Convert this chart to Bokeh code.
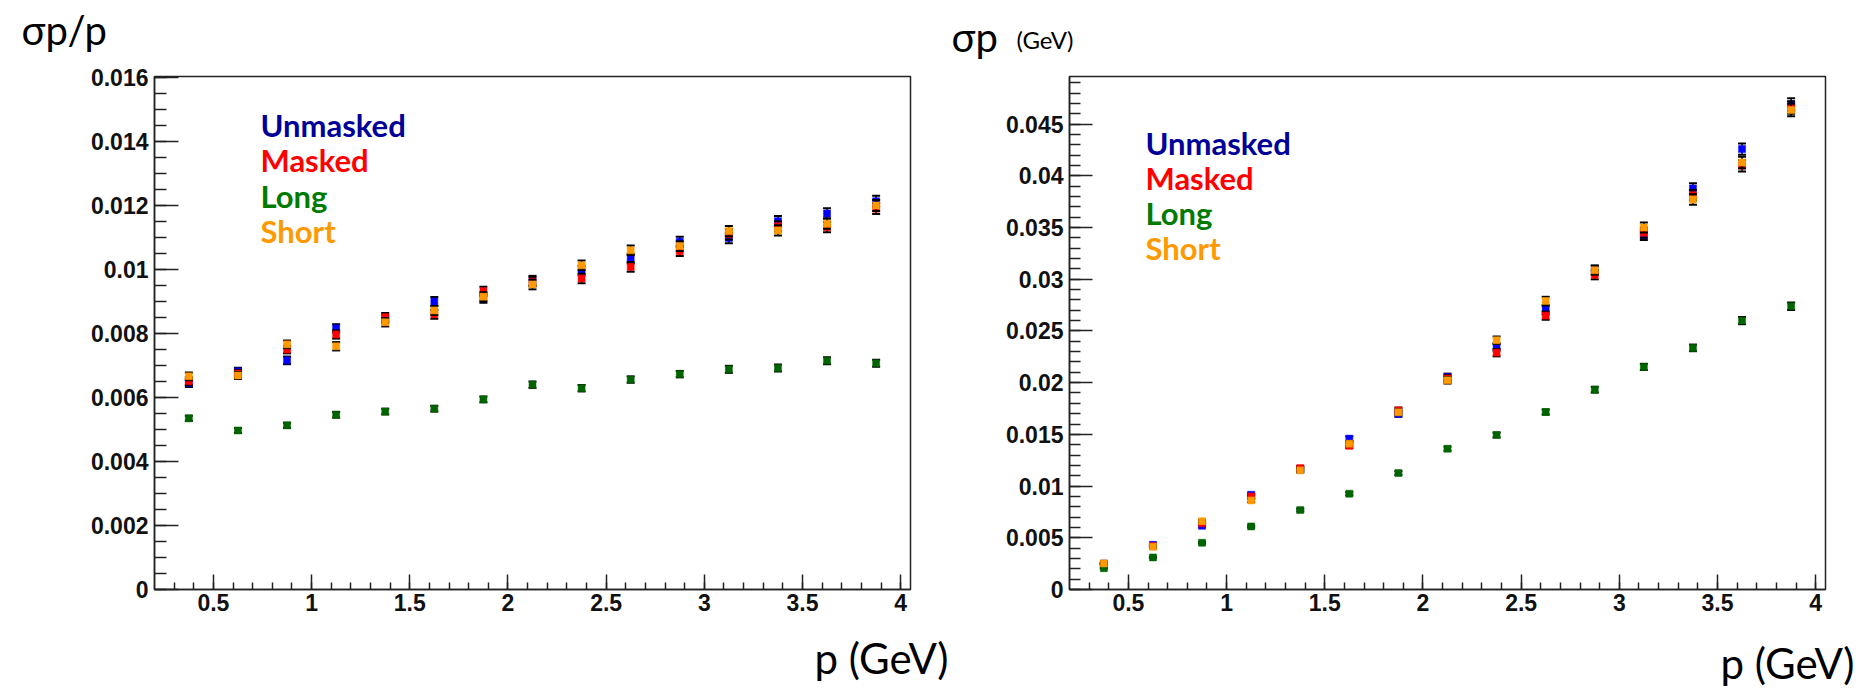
from bokeh.plotting import figure
from bokeh.layouts import row
from bokeh.models import FixedTicker, Range1d, Label, Title, LinearAxis
from bokeh.embed import file_html
from bokeh.resources import INLINE
import numpy as np

# ---------------- data ----------------
p_centers = [0.375, 0.625, 0.875, 1.125, 1.375, 1.625, 1.875, 2.125,
             2.375, 2.625, 2.875, 3.125, 3.375, 3.625, 3.875]

series_names = ["Unmasked", "Masked", "Long", "Short"]
marker_colors = ["#0000ff", "#ff0000", "#006400", "#ff9900"]
text_colors = ["#000099", "#ff0000", "#007a00", "#ff9900"]

# sigma_p / p  (left panel)
unmasked_rel = [0.00645, 0.00682, 0.00716, 0.00816, 0.00845, 0.00900, 0.00910, 0.00965,
                0.00997, 0.01034, 0.01087, 0.01098, 0.01151, 0.01175, 0.01213]
masked_rel = [0.00651, 0.00675, 0.00750, 0.00797, 0.00851, 0.00860, 0.00932, 0.00962,
              0.00972, 0.01008, 0.01057, 0.01110, 0.01135, 0.01132, 0.01190]
long_rel = [0.00535, 0.00497, 0.00513, 0.00546, 0.00556, 0.00565, 0.00594, 0.00640,
            0.00629, 0.00656, 0.00673, 0.00688, 0.00692, 0.00715, 0.00707]
short_rel = [0.00666, 0.00669, 0.00766, 0.00760, 0.00835, 0.00872, 0.00915, 0.00953,
             0.01013, 0.01060, 0.01073, 0.01120, 0.01122, 0.01143, 0.01200]
upper_rel_err = [0.00012, 0.00011, 0.00012, 0.00013, 0.00013, 0.00014, 0.00014, 0.00015,
                 0.00015, 0.00015, 0.00015, 0.00016, 0.00016, 0.00016, 0.00017]
long_rel_err = [0.00008, 0.00008, 0.00008, 0.00009, 0.00009, 0.00009, 0.00009, 0.00010,
                0.00010, 0.00010, 0.00010, 0.00011, 0.00011, 0.00011, 0.00011]

# sigma_p in GeV (right panel)
unmasked_abs = [0.00250, 0.00432, 0.00616, 0.00916, 0.01160, 0.01458, 0.01697, 0.02055,
                0.02345, 0.02700, 0.03090, 0.03426, 0.03878, 0.04258, 0.04690]
masked_abs = [0.00250, 0.00420, 0.00640, 0.00900, 0.01174, 0.01390, 0.01732, 0.02040,
              0.02290, 0.02648, 0.03042, 0.03450, 0.03813, 0.04097, 0.04660]
long_abs = [0.00206, 0.00310, 0.00452, 0.00610, 0.00768, 0.00926, 0.01126, 0.01361,
            0.01494, 0.01716, 0.01932, 0.02152, 0.02336, 0.02600, 0.02739]
short_abs = [0.00252, 0.00413, 0.00661, 0.00861, 0.01152, 0.01410, 0.01713, 0.02023,
             0.02410, 0.02790, 0.03087, 0.03500, 0.03771, 0.04129, 0.04636]
upper_abs_err = [0.00005, 0.00007, 0.00010, 0.00015, 0.00020, 0.00023, 0.00027, 0.00032,
                 0.00036, 0.00040, 0.00043, 0.00048, 0.00050, 0.00055, 0.00060]
long_abs_err = [0.00004, 0.00006, 0.00008, 0.00010, 0.00013, 0.00015, 0.00018, 0.00020,
                0.00023, 0.00025, 0.00028, 0.00030, 0.00032, 0.00035, 0.00037]

# axes
p_ticks = [0.5, 1, 1.5, 2, 2.5, 3, 3.5, 4]
p_tick_labels = ["0.5", "1", "1.5", "2", "2.5", "3", "3.5", "4"]
rel_ticks = [0, 0.002, 0.004, 0.006, 0.008, 0.01, 0.012, 0.014, 0.016]
rel_tick_labels = ["0", "0.002", "0.004", "0.006", "0.008", "0.01", "0.012", "0.014", "0.016"]
abs_ticks = [0, 0.005, 0.01, 0.015, 0.02, 0.025, 0.03, 0.035, 0.04, 0.045]
abs_tick_labels = ["0", "0.005", "0.01", "0.015", "0.02", "0.025", "0.03", "0.035", "0.04", "0.045"]

x_title = "p (GeV)"
left_y_title = "σp/p"
right_y_title = "σp"
right_y_unit = "(GeV)"

x_range = (0.2, 4.05)
rel_range = (0, 0.01603)
abs_range = (0, 0.0496)

FRAME_W, FRAME_H = 756, 513
AXIS_COLOR = "#222222"
TITLE_FONT = "Lato"


def style_axes(p, xt, xl, xminor, yt, yl, yminor, ymaj_len, ymin_len):
    p.xaxis.ticker = FixedTicker(ticks=xt, minor_ticks=xminor)
    p.yaxis.ticker = FixedTicker(ticks=yt, minor_ticks=yminor)
    p.xaxis.major_label_overrides = {t: l for t, l in zip(xt, xl)}
    p.yaxis.major_label_overrides = {t: l for t, l in zip(yt, yl)}
    for ax in (p.xaxis[0], p.yaxis[0]):
        ax.axis_line_color = AXIS_COLOR
        ax.axis_line_width = 1.5
        ax.major_tick_line_color = AXIS_COLOR
        ax.minor_tick_line_color = AXIS_COLOR
        ax.major_tick_line_width = 1.5
        ax.minor_tick_line_width = 1.5
        ax.major_tick_out = 0
        ax.minor_tick_out = 0
        ax.major_label_text_font = "Liberation Sans"
        ax.major_label_text_font_style = "bold"
        ax.major_label_text_font_size = "23px"
        ax.major_label_text_color = "#111111"
    p.xaxis.major_tick_in = 15
    p.xaxis.minor_tick_in = 7
    p.yaxis.major_tick_in = ymaj_len
    p.yaxis.minor_tick_in = ymin_len
    p.xaxis.major_label_standoff = 4
    p.yaxis.major_label_standoff = 6


def add_series(p, ys_list, errs_list):
    for y, e, c in zip(ys_list, errs_list, marker_colors):
        lo = [a - b for a, b in zip(y, e)]
        hi = [a + b for a, b in zip(y, e)]
        p.segment(x0=p_centers, y0=lo, x1=p_centers, y1=hi, line_color="black", line_width=1.5)
        p.scatter(x=p_centers, y=lo, marker="dash", size=8, line_color="black", line_width=2)
        p.scatter(x=p_centers, y=hi, marker="dash", size=8, line_color="black", line_width=2)
        p.scatter(x=p_centers, y=y, marker="square", size=7, fill_color=c, line_color=c, line_width=0.5)


def add_legend_text(p, x_px, y_top_px, step_px):
    for i, (name, col) in enumerate(zip(series_names, text_colors)):
        p.add_layout(Label(x=x_px, y=y_top_px - i * step_px, x_units="screen", y_units="screen",
                           text=name, text_font=TITLE_FONT, text_font_size="31px",
                           text_font_style="bold", text_color=col, text_baseline="alphabetic"))


def add_spacer(p, side, size):
    """An invisible axis (one hidden tick) used only to reserve space in a side panel."""
    ax = LinearAxis(ticker=FixedTicker(ticks=[2.0], minor_ticks=[]),
                    major_label_overrides={2.0: ""},
                    major_label_text_font_size="1px", major_label_standoff=0,
                    axis_line_color=None, major_tick_line_color=None, minor_tick_line_color=None,
                    major_tick_out=max(size - 1, 0), major_tick_in=0, minor_tick_out=0, minor_tick_in=0)
    p.add_layout(ax, side)


def add_title(p, side, text, size, align, offset, standoff, valign):
    p.add_layout(Title(text=text, text_font=TITLE_FONT, text_font_size=size,
                       text_font_style="normal", text_color="black",
                       align=align, offset=offset, standoff=standoff,
                       vertical_align=valign), side)


def make_fig(yrange, border_left, border_right, border_top, border_bottom):
    p = figure(frame_width=FRAME_W, frame_height=FRAME_H, title=None,
               x_range=Range1d(*x_range), y_range=Range1d(*yrange),
               output_backend="svg", toolbar_location=None,
               min_border_left=border_left, min_border_right=border_right,
               min_border_top=border_top, min_border_bottom=border_bottom)
    p.grid.visible = False
    p.outline_line_color = AXIS_COLOR
    p.outline_line_width = 1.5
    p.background_fill_color = "white"
    p.border_fill_color = "white"
    return p


p_minor = list(np.round(np.arange(0.3, 4.05, 0.1), 3))
rel_minor = list(np.round(np.arange(0, 0.0161, 0.0005), 5))
abs_minor = list(np.round(np.arange(0, 0.0496, 0.001), 4))

# ---------- left panel ----------
LW = 950
p1 = make_fig(rel_range, 154, LW - 154 - FRAME_W, 72, 105)
style_axes(p1, p_ticks, p_tick_labels, p_minor, rel_ticks, rel_tick_labels, rel_minor, 24, 12)
add_series(p1, [unmasked_rel, masked_rel, long_rel, short_rel],
           [upper_rel_err, upper_rel_err, long_rel_err, upper_rel_err])
add_legend_text(p1, 106, 465, 35.5)
add_spacer(p1, "above", 25)
add_title(p1, "above", left_y_title, "40px", "left", -133, -6, "top")
add_spacer(p1, "below", 20)
add_title(p1, "below", x_title, "42px", "right", -38, 0, "top")

# ---------- right panel ----------
RW = 1866 - LW
RB_LEFT = 1069 - LW
p2 = make_fig(abs_range, RB_LEFT, RW - RB_LEFT - FRAME_W, 76, 101)
style_axes(p2, p_ticks, p_tick_labels, p_minor, abs_ticks, abs_tick_labels, abs_minor, 23, 11)
add_series(p2, [unmasked_abs, masked_abs, long_abs, short_abs],
           [upper_abs_err, upper_abs_err, long_abs_err, upper_abs_err])
add_legend_text(p2, 76, 447, 35)
add_spacer(p2, "above", 37)
add_title(p2, "above", right_y_unit, "24px", "left", -53, -29, "middle")
add_title(p2, "above", right_y_title, "40px", "left", -118, -46, "middle")
add_spacer(p2, "below", 32)
add_title(p2, "below", x_title, "42px", "right", -29, -14, "top")

layout = row(p1, p2, spacing=0)
open("out.html", "w").write(file_html(layout, INLINE))
